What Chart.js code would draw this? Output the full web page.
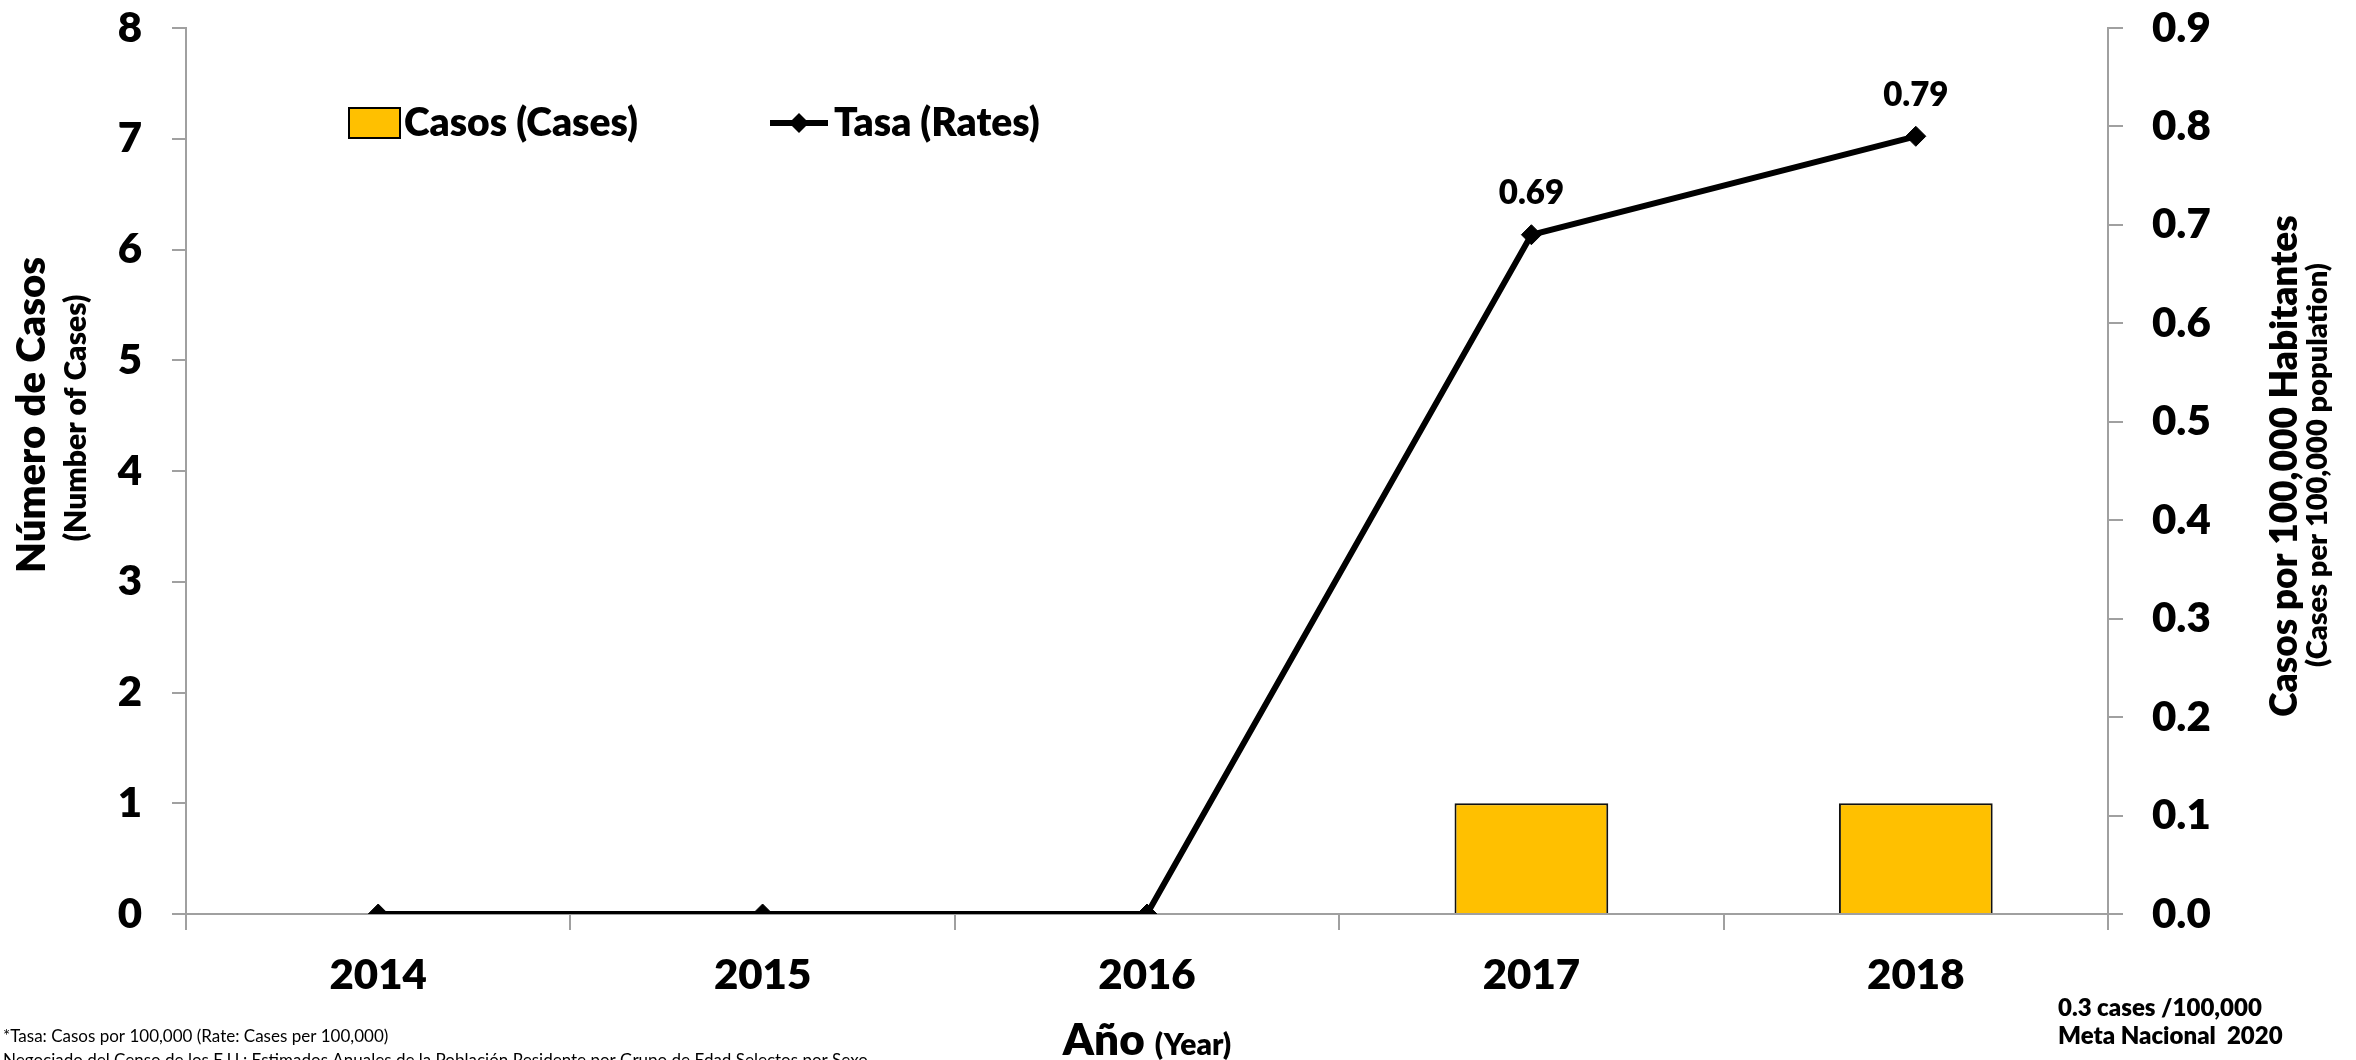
<!DOCTYPE html>
<html><head><meta charset="utf-8">
<script src="https://cdn.jsdelivr.net/npm/chart.js@4.4.0/dist/chart.umd.min.js"></script>
<style>html,body{margin:0;padding:0;background:#fff;overflow:hidden}#wrap{width:2356px;height:1060px}</style>
</head><body><div id="wrap"><canvas id="c" width="2356" height="1060"></canvas></div>
<script>
const years = ['2014', '2015', '2016', '2017', '2018'];
const cases = [0, 0, 0, 1, 1];
const rates = [0, 0, 0, 0.69, 0.79];
const casesAxisRange = [0, 8];
const casesAxisStep = 1;
const rateAxisRange = [0, 0.9];
const rateAxisStep = 0.1;
const seriesNames = ['Casos (Cases)', 'Tasa (Rates)'];
const leftTitle = ['Número de Casos', '(Number of Cases)'];
const rightTitle = ['Casos por 100,000 Habitantes', '(Cases per 100,000 population)'];
const xTitle = ['Año', '(Year)'];
const goalNote = ['0.3 cases /100,000', 'Meta Nacional  2020'];
const footnotes = ['*Tasa: Casos por 100,000 (Rate: Cases per 100,000)',
  'Negociado del Censo de los E.U.: Estimados Anuales de la Población Residente por Grupo de Edad Selectos por Sexo'];

const FONT = 'Lato, "Open Sans", sans-serif';
const W = '800';
const AXIS = '#a0a0a0';
const BAR = '#FFC000';

function rotText(ctx, text, x, y, font) {
  ctx.save();
  ctx.translate(x, y);
  ctx.rotate(-Math.PI / 2);
  ctx.font = font;
  ctx.textAlign = 'center';
  ctx.textBaseline = 'alphabetic';
  ctx.fillText(text, 0, 0);
  ctx.restore();
}

const decor = {
  id: 'decor',
  afterDraw(chart) {
    const ctx = chart.ctx;
    const area = chart.chartArea;
    ctx.save();
    ctx.fillStyle = '#000';
    const meta = chart.getDatasetMeta(0);
    ctx.font = W + ' 33px ' + FONT;
    ctx.textAlign = 'center';
    ctx.textBaseline = 'middle';
    meta.data.forEach((pt, i) => {
      if (rates[i] > 0) ctx.fillText(rates[i].toFixed(2), pt.x, pt.y - 41);
    });
    // legend
    const ly = 123;
    ctx.fillStyle = BAR;
    ctx.fillRect(349, ly - 15, 51, 30);
    ctx.strokeStyle = '#000';
    ctx.lineWidth = 2;
    ctx.strokeRect(349, ly - 15, 51, 30);
    ctx.fillStyle = '#000';
    ctx.font = W + ' 39px ' + FONT;
    ctx.textAlign = 'left';
    ctx.textBaseline = 'middle';
    ctx.fillText(seriesNames[0], 404, ly);
    ctx.lineWidth = 6;
    ctx.beginPath(); ctx.moveTo(770, ly); ctx.lineTo(828, ly); ctx.stroke();
    ctx.beginPath();
    ctx.moveTo(799 - 10, ly); ctx.lineTo(799, ly - 10); ctx.lineTo(799 + 10, ly); ctx.lineTo(799, ly + 10);
    ctx.closePath(); ctx.fill();
    ctx.fillText(seriesNames[1], 834, ly);
    // y titles
    const cy = (area.top + area.bottom) / 2;
    rotText(ctx, leftTitle[0], 45, 415, W + ' 40px ' + FONT);
    rotText(ctx, leftTitle[1], 86, 418, W + ' 30px ' + FONT);
    rotText(ctx, rightTitle[0], 2297, 466, W + ' 37px ' + FONT);
    rotText(ctx, rightTitle[1], 2327, cy - 6, W + ' 29px ' + FONT);
    // x title
    const cx = (area.left + area.right) / 2;
    ctx.textBaseline = 'alphabetic';
    ctx.font = W + ' 44px ' + FONT;
    const w1 = ctx.measureText(xTitle[0] + ' ').width;
    ctx.font = W + ' 30px ' + FONT;
    const w2 = ctx.measureText(xTitle[1]).width;
    const sx = cx - (w1 + w2) / 2;
    ctx.textAlign = 'left';
    ctx.font = W + ' 44px ' + FONT;
    ctx.fillText(xTitle[0], sx, 1055);
    ctx.font = W + ' 30px ' + FONT;
    ctx.fillText(xTitle[1], sx + w1, 1055);
    // goal note
    ctx.font = W + ' 24px ' + FONT;
    ctx.textBaseline = 'middle';
    ctx.fillText(goalNote[0], 2058, 1008);
    ctx.fillText(goalNote[1], 2058, 1036);
    // footnotes
    ctx.font = '17px ' + FONT;
    ctx.textBaseline = 'alphabetic';
    ctx.fillText(footnotes[0], 3, 1042);
    ctx.fillText(footnotes[1], 3, 1066);
    ctx.restore();
  }
};

const tickFont = { family: FONT, size: 42, weight: W };
function fitY(width) {
  return s => { s.width = width; s.paddingTop = 0; s.paddingBottom = 0; };
}

new Chart(document.getElementById('c'), {
  type: 'bar',
  data: {
    labels: years,
    datasets: [
      {
        type: 'line', label: seriesNames[1], data: rates, yAxisID: 'y1', order: 0,
        borderColor: '#000', borderWidth: 6, backgroundColor: '#000',
        pointStyle: 'rectRot', pointRadius: 10, pointBackgroundColor: '#000', pointBorderColor: '#000',
        pointBorderWidth: 1, tension: 0, fill: false
      },
      {
        type: 'bar', label: seriesNames[0], data: cases, yAxisID: 'y', order: 1,
        backgroundColor: BAR, borderColor: '#111', borderWidth: 2,
        categoryPercentage: 1, barPercentage: 0.4
      }
    ]
  },
  options: {
    responsive: false, animation: false, devicePixelRatio: 1,
    layout: { padding: { top: 28, left: 0, right: 0, bottom: 0 } },
    plugins: { legend: { display: false }, tooltip: { enabled: false } },
    scales: {
      x: {
        offset: true,
        grid: { offset: true, drawOnChartArea: false, drawTicks: true, tickLength: 16, color: AXIS, lineWidth: 2 },
        border: { color: AXIS, width: 2 },
        ticks: { color: '#000', font: tickFont, padding: 20 },
        afterFit(s) { s.height = 146; s.paddingLeft = 0; s.paddingRight = 0; }
      },
      y: {
        position: 'left', min: casesAxisRange[0], max: casesAxisRange[1],
        grid: { drawOnChartArea: false, drawTicks: true, tickLength: 14, color: AXIS, lineWidth: 2 },
        border: { color: AXIS, width: 2 },
        ticks: { stepSize: casesAxisStep, color: '#000', font: tickFont, padding: 30 },
        afterFit: fitY(186)
      },
      y1: {
        position: 'right', min: rateAxisRange[0], max: rateAxisRange[1],
        grid: { drawOnChartArea: false, drawTicks: true, tickLength: 15, color: AXIS, lineWidth: 2 },
        border: { color: AXIS, width: 2 },
        ticks: { stepSize: rateAxisStep, color: '#000', font: tickFont, padding: 29,
          callback: v => Number(v).toFixed(1) },
        afterFit: fitY(248)
      }
    }
  },
  plugins: [decor]
});
</script>
</body></html>
